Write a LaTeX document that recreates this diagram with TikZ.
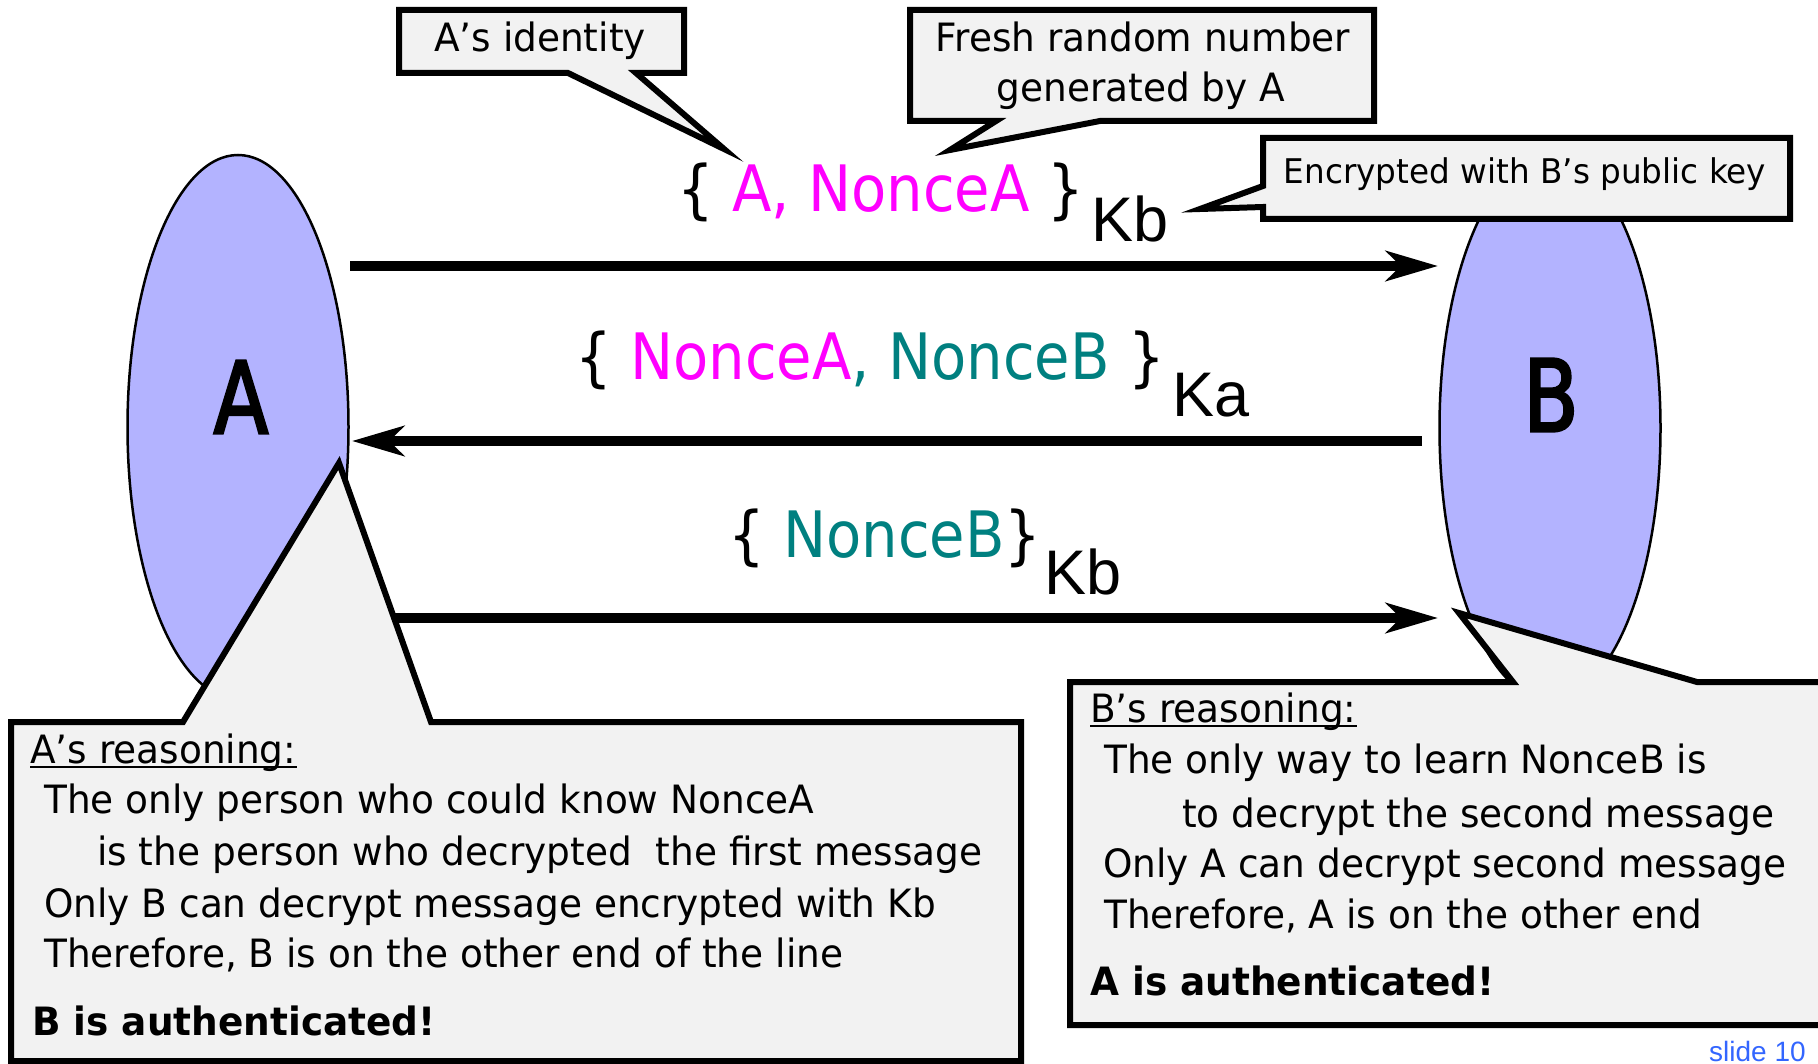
\documentclass[tikz,border=0pt]{standalone}
\usepackage{fontspec}
\setmainfont{DejaVu Sans}[FakeStretch=0.9]
\newfontfamily\bodyfont{DejaVu Sans}[FakeStretch=0.96]
\newfontfamily\arialfont{Liberation Sans}
\newfontfamily\letterfont{DejaVu Sans}[FakeStretch=0.8,FakeBold=2.5]
\usetikzlibrary{arrows.meta,shapes.geometric}
\definecolor{callgray}{RGB}{242,242,242}
\definecolor{partyblue}{RGB}{179,179,255}
\definecolor{nmag}{RGB}{255,0,255}
\definecolor{nteal}{RGB}{0,128,128}
\definecolor{slideblue}{RGB}{51,102,255}
\begin{document}
\begin{tikzpicture}[x=1pt,y=-1pt,
  party/.style={ellipse, draw=black, line width=2.5pt, fill=partyblue, minimum width=221pt, minimum height=544pt, inner sep=0pt},
  letter/.style={font=\fontsize{100}{100}\selectfont\letterfont, inner sep=0pt},
  msgarrow/.style={arrows={-Stealth[length=52pt,width=30pt,inset=15pt]}, line width=10pt},
  callout/.style={draw=black, fill=callgray, line width=6pt, line join=miter, miter limit=12},
  body/.style={font=\fontsize{39}{51}\selectfont\bodyfont, inner sep=0pt, anchor=base west},
  boldbody/.style={font=\fontsize{39}{51}\selectfont\bodyfont\bfseries, inner sep=0pt, anchor=base west},
  boxtext/.style={font=\fontsize{39}{51}\selectfont\bodyfont, inner sep=0pt, anchor=base},
  msgtext/.style={font=\fontsize{64}{70}\selectfont, inner sep=0pt, anchor=base},
  keytext/.style={font=\fontsize{63}{70}\selectfont\arialfont, inner sep=0pt, anchor=base west},
  uline/.style={line width=2.5pt}
]
\clip (0,0) rectangle (1818,1064);
\fill[white] (0,0) rectangle (1818,1064);

% parties
\node[party] (A) at (238,427) {};
\node[party] (B) at (1550,428) {};
\node[letter] (Alab) at (241,397) {A};
\node[letter] (Blab) at (1551,395) {B};

% message arrows
\coordinate (m1s) at (350,266);
\coordinate (m1e) at (1438,266);
\coordinate (m2s) at (1422,441);
\coordinate (m2e) at (352,441);
\coordinate (m3s) at (350,618);
\coordinate (m3e) at (1438,618);
\draw[msgarrow] (m1s) -- (m1e);
\draw[msgarrow] (m2s) -- (m2e);
\draw[msgarrow] (m3s) -- (m3e);

% message texts
\node[msgtext] (t1) at (881,212) {\{ \textcolor{nmag}{A, NonceA} \}};
\node[keytext] (k1) at (1091,242) {Kb};
\node[msgtext] (t2) at (870,380) {\{ \textcolor{nmag}{NonceA}\textcolor{nteal}{, NonceB} \}};
\node[keytext] (k2) at (1172,417) {Ka};
\node[msgtext] (t3) at (885,557) {\{ \textcolor{nteal}{NonceB}\}};
\node[keytext] (k3) at (1044,594) {Kb};

% callout: A's identity
\draw[callout] (399,10) -- (684,10) -- (684,73) -- (636,73) -- (724,149) -- (568,73) -- (399,73) -- cycle;
\node[boxtext] (cid) at (540,52) {A’s identity};

% callout: fresh random number
\draw[callout] (910,10) -- (1374,10) -- (1374,121) -- (1100,121) -- (950,150) -- (996,121) -- (910,121) -- cycle;
\node[boxtext] (cfr1) at (1143,52) {Fresh random number};
\node[boxtext] (cfr2) at (1141,102) {generated by A};

% callout: encrypted with B's public key
\draw[callout] (1263,138) -- (1790,138) -- (1790,219) -- (1263,219) -- (1263,207) -- (1200,209) -- (1263,186) -- cycle;
\node[boxtext, font=\fontsize{34}{44}\selectfont\bodyfont] (cenc) at (1525,184) {Encrypted with B’s public key};

% callout: A's reasoning
\draw[callout] (11,722) -- (183,722) -- (339,463) -- (431,722) -- (1021,722) -- (1021,1061) -- (11,1061) -- cycle;
\node[body] (hA) at (30,763) {A’s reasoning:};
\draw[uline] ([yshift=-4pt]hA.base west) -- ([yshift=-4pt]hA.base east);
\node[body] (a1) at (44,813) {The only person who could know NonceA};
\node[body] (a2) at (97,865) {is the person who decrypted~ the first message};
\node[body] (a3) at (44,917) {Only B can decrypt message encrypted with Kb};
\node[body] (a4) at (44,967) {Therefore, B is on the other end of the line};
\node[boldbody] (a5) at (32,1035) {B is authenticated!};

% callout: B's reasoning
\draw[callout] (1070,682) -- (1513,682) -- (1459,613) -- (1697,682) -- (1830,682) -- (1830,1025) -- (1070,1025) -- cycle;
\node[body] (hB) at (1090,722) {B’s reasoning:};
\draw[uline] ([yshift=-4pt]hB.base west) -- ([yshift=-4pt]hB.base east);
\node[body] (b1) at (1104,773) {The only way to learn NonceB is};
\node[body] (b2) at (1182,827) {to decrypt the second message};
\node[body] (b3) at (1103,877) {Only A can decrypt second message};
\node[body] (b4) at (1104,928) {Therefore, A is on the other end};
\node[boldbody] (b5) at (1090,995) {A is authenticated!};

% slide number
\node[font=\fontsize{28}{32}\selectfont\arialfont, text=slideblue, anchor=base west, inner sep=0pt] (slide) at (1709,1061) {slide 10};
\end{tikzpicture}
\end{document}
